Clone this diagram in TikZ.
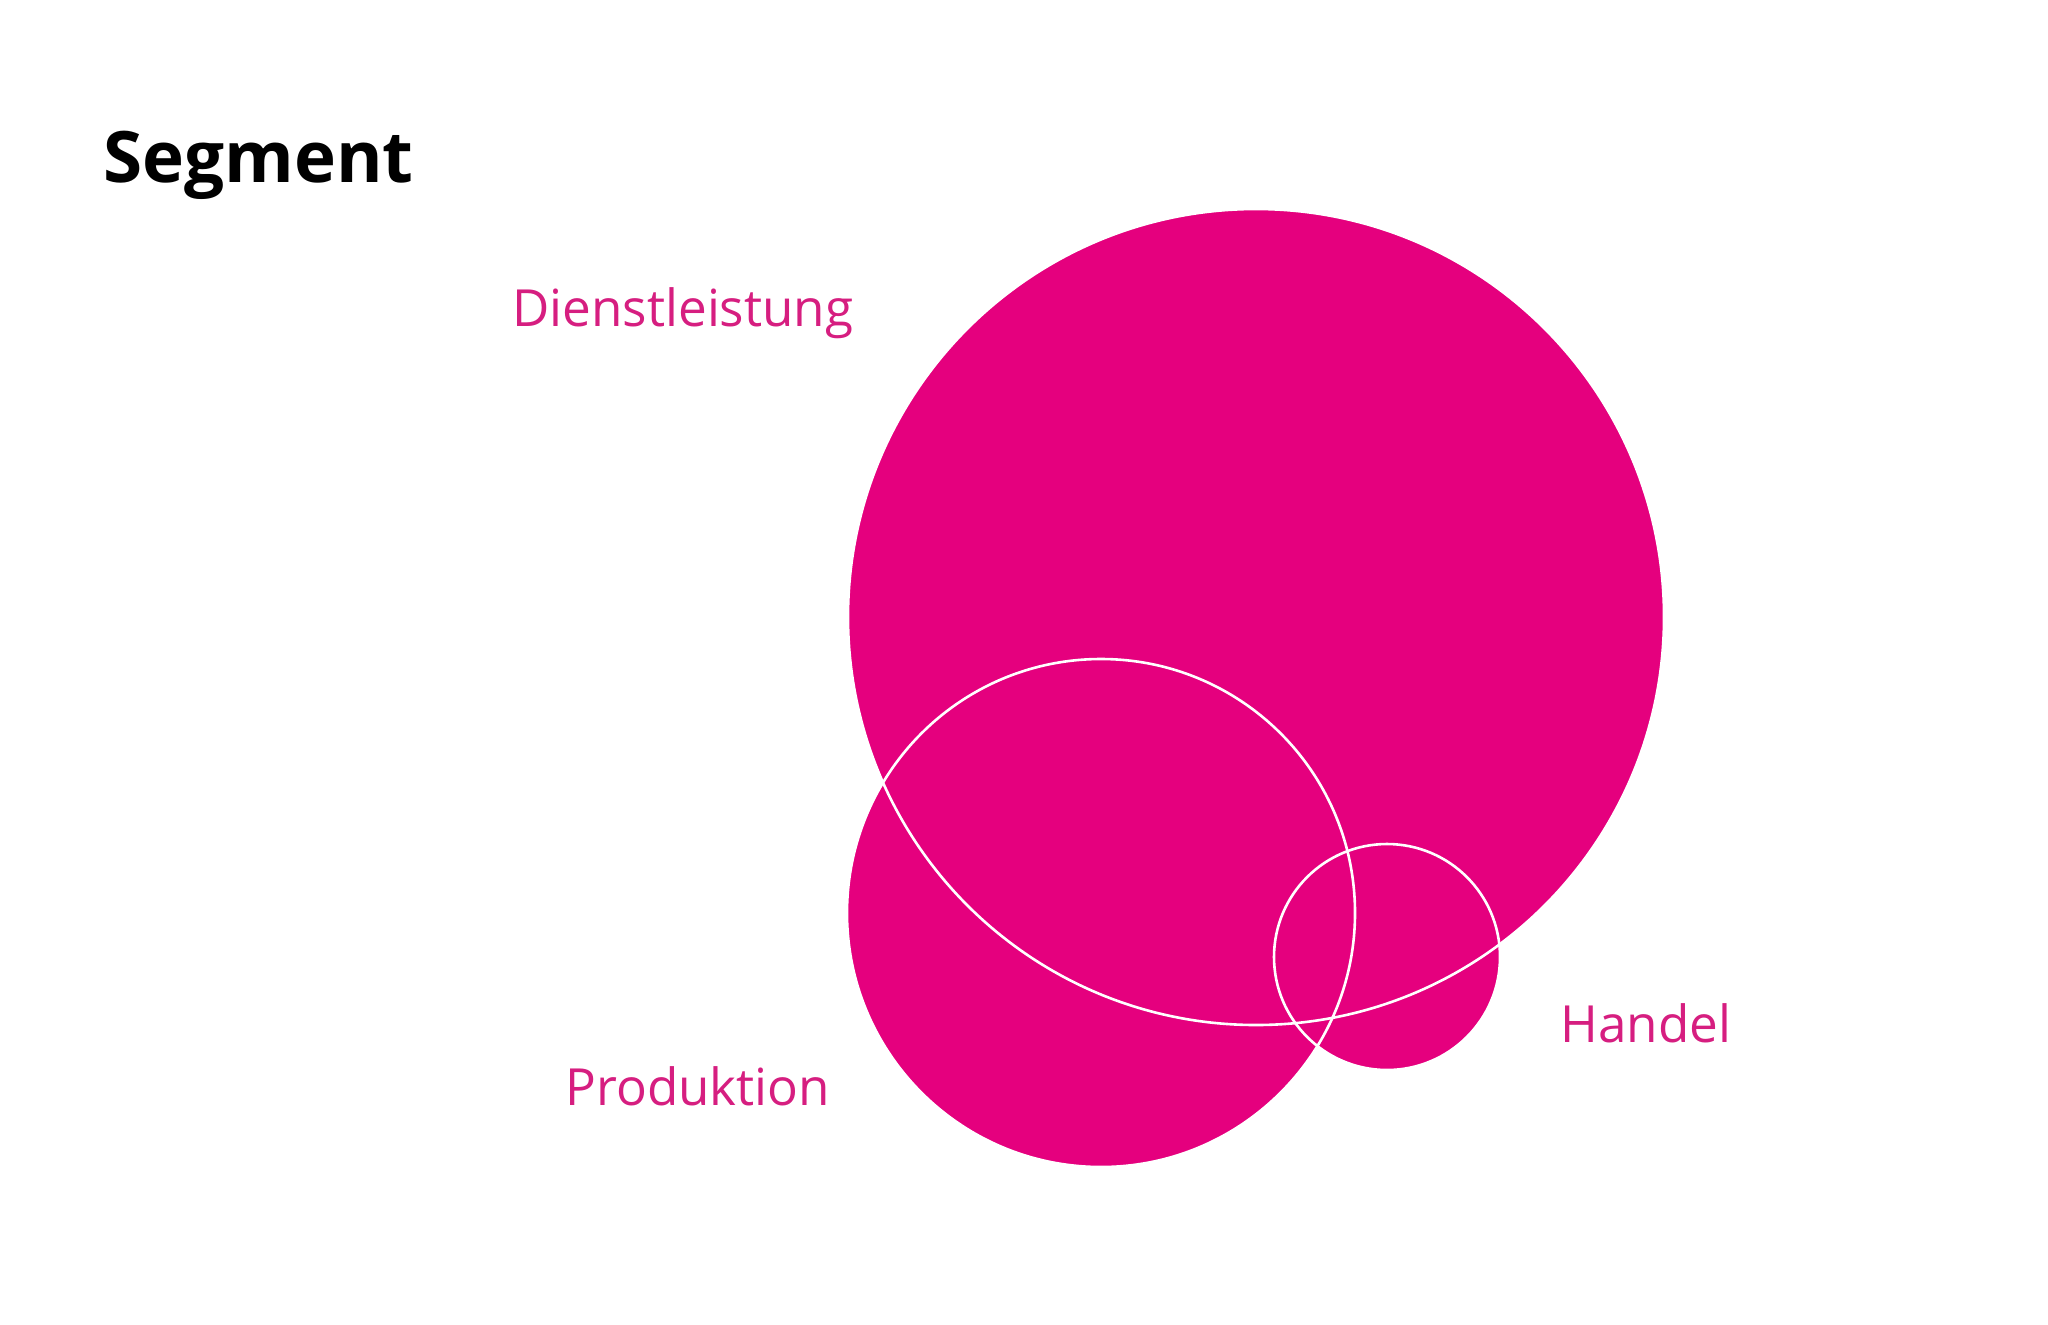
\documentclass[tikz,border=0pt]{standalone}
\usepackage{fontspec}
\setmainfont{Open Sans}
\usepackage{xcolor}
\definecolor{segpink}{RGB}{229,0,126}
\definecolor{segtext}{RGB}{214,30,128}
\usetikzlibrary{positioning}

\begin{document}
\begin{tikzpicture}[x=0.5pt, y=-0.5pt,
    segfill/.style={fill=segpink, draw=none},
    segline/.style={draw=white, line width=1.3pt},
    seglabel/.style={anchor=base west, inner sep=0pt, text=segtext, font=\fontsize{25.6}{30}\selectfont}]

    \useasboundingbox[fill=white] (0,0) rectangle (2048,1324);

    % title
    \node[anchor=base west, inner sep=0pt, font=\bfseries\fontsize{35.5}{42}\selectfont] (title) at (103,182) {Segment};

    % circles: fill first, then the white outlines
    \coordinate (dienst) at (1256,617);
    \coordinate (prod) at (1101,913);
    \coordinate (handel) at (1387,957);

    \fill[segfill] (dienst) circle[radius=408];
    \fill[segfill] (prod) circle[radius=254];
    \fill[segfill] (handel) circle[radius=113];

    \draw[segline] (dienst) circle[radius=408];
    \draw[segline] (prod) circle[radius=254];
    \draw[segline] (handel) circle[radius=113];

    % labels
    \node[seglabel] (ldienst) at (512,326) {Dienstleistung};
    \node[seglabel] (lprod) at (565,1105) {Produktion};
    \node[seglabel] (lhandel) at (1560,1042) {Handel};

\end{tikzpicture}
\end{document}
